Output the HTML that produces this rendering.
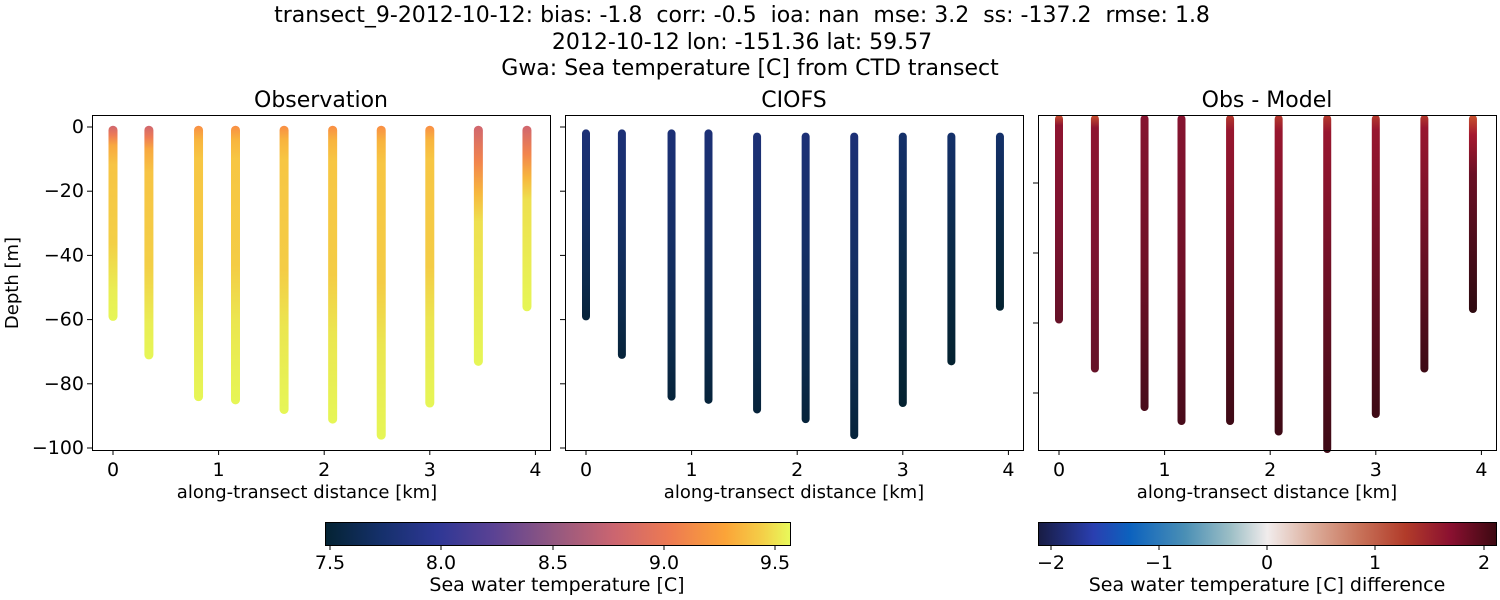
<!DOCTYPE html>
<html><head><meta charset="utf-8"><style>
html,body{margin:0;padding:0;background:#fff;}
svg{display:block;font-family:"DejaVu Sans","Liberation Sans",sans-serif;}
</style></head><body>
<svg id="s" width="1500" height="600" viewBox="0 0 1500 600" xmlns="http://www.w3.org/2000/svg">
<defs>
<linearGradient id="thermal" x1="0" x2="1" y1="0" y2="0">
<stop offset="0" stop-color="#042333"/><stop offset="0.12" stop-color="#15306b"/><stop offset="0.24" stop-color="#2e3795"/>
<stop offset="0.36" stop-color="#5a4294"/><stop offset="0.5" stop-color="#97597f"/><stop offset="0.62" stop-color="#cb6570"/>
<stop offset="0.74" stop-color="#ed7a52"/><stop offset="0.86" stop-color="#fba438"/><stop offset="0.94" stop-color="#f4cf48"/>
<stop offset="1" stop-color="#e8fa5b"/></linearGradient>
<linearGradient id="balance" x1="0" x2="1" y1="0" y2="0">
<stop offset="0" stop-color="#181c43"/><stop offset="0.12" stop-color="#2a3fb0"/><stop offset="0.2" stop-color="#0c62be"/>
<stop offset="0.32" stop-color="#4a8fb5"/><stop offset="0.42" stop-color="#9dbfc6"/><stop offset="0.5" stop-color="#f1ecec"/>
<stop offset="0.6" stop-color="#dcad9b"/><stop offset="0.7" stop-color="#c8735a"/><stop offset="0.8" stop-color="#b23c2a"/>
<stop offset="0.9" stop-color="#8a1030"/><stop offset="1" stop-color="#3c0911"/></linearGradient>
</defs>
<g id="g" font-size="19" fill="#000"></g>
<g id="tt" text-anchor="middle" font-size="22" style="white-space:pre">
<text x="742" y="22" xml:space="preserve">transect_9-2012-10-12: bias: -1.8  corr: -0.5  ioa: nan  mse: 3.2  ss: -137.2  rmse: 1.8</text>
<text x="742" y="49">2012-10-12 lon: -151.36 lat: 59.57</text>
<text x="750" y="75">Gwa: Sea temperature [C] from CTD transect</text>
<text x="321" y="107">Observation</text>
<text x="794" y="107">CIOFS</text>
<text x="1267" y="107">Obs - Model</text>
</g>
<g font-size="18" text-anchor="middle">
<text x="307" y="498">along-transect distance [km]</text>
<text x="794" y="498">along-transect distance [km]</text>
<text x="1267" y="498">along-transect distance [km]</text>
<text transform="translate(18,283) rotate(-90)">Depth [m]</text>
<text x="557" y="591" font-size="19">Sea water temperature [C]</text>
<text x="1267" y="591" font-size="19">Sea water temperature [C] difference</text>
</g>
<rect x="325.5" y="522.5" width="465" height="23" fill="url(#thermal)" stroke="#000" stroke-width="1"/>
<rect x="1038.5" y="522.5" width="458" height="23" fill="url(#balance)" stroke="#000" stroke-width="1"/>
</svg>
<script>
const NS="http://www.w3.org/2000/svg",g=document.getElementById('g'),defs=document.querySelector('defs');
function el(t,a,p){const e=document.createElementNS(NS,t);for(const k in a)e.setAttribute(k,a[k]);(p||g).appendChild(e);return e;}
function txt(x,y,s,anc){const e=el('text',{x:x,y:y,'text-anchor':anc||'middle'});e.textContent=s;}
const xs=[0,0.34,0.81,1.16,1.62,2.08,2.54,3.0,3.46,3.92];
const bot=[59,71,84,85,88,91,96,86,73,56];
const ctop=[2,2,2,2,3,3,3,3,3,3];
const pinkTop=[1,1,0,0,0,0,0,0,1,1];
const panels=[92,565,1038];
let gid=0;
function grad(stops){const id='lg'+(gid++);const lg=el('linearGradient',{id:id,x1:0,x2:0,y1:0,y2:1},defs);
 stops.forEach(s=>el('stop',{offset:s[0],'stop-color':s[1]},lg));return id;}
panels.forEach((L,p)=>{
 const x0=L+21, kx=105.6;
 const yMap=p<2?(d=>127+d*3.21):(d=>113+d*3.5);
 xs.forEach((x,i)=>{
  const cx=x0+x*kx;
  let top,b,stops,w=9;
  if(p==0){top=1;b=bot[i];
   stops=pinkTop[i]?[[0,'#d0666f'],[0.05,'#ee7c55'],[0.1,'#f8a840'],[0.2,'#f7c444'],[0.6,'#f3cf46'],[0.85,'#e9ee54'],[1,'#e6f656']]:
    [[0,'#f98e45'],[0.05,'#f8b43e'],[0.12,'#f7c643'],[0.5,'#f4cc45'],[0.7,'#ebe650'],[1,'#e6f656']];
   if(i==8||i==9)stops=[[0,'#d0666f'],[0.15,'#f2844d'],[0.28,'#f7b73e'],[0.4,'#eee04f'],[1,'#e6f656']];}
  else if(p==1){top=ctop[i];b=bot[i];w=8;stops=[[0,'#1c3076'],[0.4,'#152f66'],[0.8,'#0c2a4c'],[1,'#06233a']];
   if(i>=7)stops=[[0,'#14306a'],[0.5,'#0a2a48'],[1,'#042230']];}
  else{top=i<4?0:1;b=(i==6)?110:bot[i]+(i==1?2:0)+(i==3?3:0);
   stops=i<2?[[0,'#c8502e'],[0.05,'#8e1430'],[0.5,'#7e1330'],[1,'#651228']]:
    i<4?[[0,'#861430'],[0.5,'#701027'],[1,'#480b1a']]:
    [[0,'#b43a2c'],[0.05,'#98162f'],[0.4,'#761128'],[1,'#3d0a15']];
   if(i==9)stops=[[0,'#c8532e'],[0.1,'#a5182f'],[0.3,'#6a1025'],[1,'#2e0a10']];
   w=8;}
  const y1=Math.max(yMap(top),p==2?119:118), y2=Math.min(yMap(b),p==2?449:999);
  const id=grad(stops);
  el('rect',{x:cx-w/2,y:y1-w/2,width:w,height:y2-y1+w,rx:w/2,fill:'url(#'+id+')'});
 });
 for(let k=0;k<=4;k++){const tx=x0+k*kx;el('line',{x1:tx,x2:tx,y1:450,y2:455,stroke:'#000'});txt(tx,476,k);}
 if(p<2){for(let k=0;k<=5;k++){const ty=127+k*20*3.21;el('line',{x1:L-5,x2:L,y1:ty,y2:ty,stroke:'#000'});
  if(p==0)txt(L-8,ty+6,k==0?'0':'\u2212'+(k*20),'end');}}
 else{for(let k=1;k<=4;k++){const ty=113+k*20*3.5;el('line',{x1:L-5,x2:L,y1:ty,y2:ty,stroke:'#000'});}}
 el('rect',{x:L+0.5,y:115.5,width:458,height:335,fill:'none',stroke:'#000','stroke-width':1});
});
el('rect',{x:1039,y:100,width:456,height:15,fill:'#fff'});
document.getElementById('s').appendChild(document.getElementById('tt'));
el('line',{x1:1038.5,x2:1496.5,y1:115.5,y2:115.5,stroke:'#000'});
[[7.5,330],[8.0,441],[8.5,553],[9.0,664],[9.5,775]].forEach(t=>{el('line',{x1:t[1],x2:t[1],y1:546,y2:550,stroke:'#000'});txt(t[1],569,t[0].toFixed(1));});
[['\u22122',1051],['\u22121',1159],['0',1267],['1',1375],['2',1484]].forEach(t=>{el('line',{x1:t[1],x2:t[1],y1:546,y2:550,stroke:'#000'});txt(t[1],569,t[0]);});
</script>
</body></html>
